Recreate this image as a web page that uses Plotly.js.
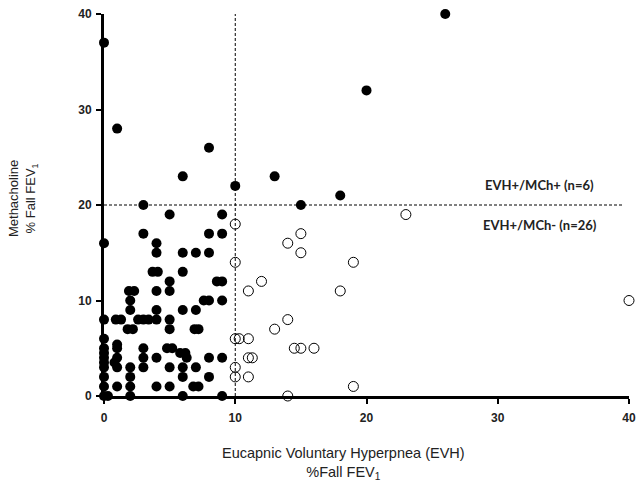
<!DOCTYPE html>
<html>
<head>
<meta charset="utf-8">
<script src="https://cdn.plot.ly/plotly-3.0.1.min.js"></script>
<style>html,body{margin:0;padding:0;background:#fff;}#chart{width:638px;height:487px;}</style>
</head>
<body>
<div id="chart"></div>
<script>
// EVH-/MCh+ and other filled points (EVH %fall, Methacholine %fall)
var filledX = [
  0, 0.3, 2, 6, 9,
  0, 1, 2, 4, 5, 6.8, 7.2,
  0, 2, 6, 8,
  0, 1, 2, 3, 5, 6, 7,
  0, 0.8,
  0, 1, 3, 4, 6.3, 8, 9,
  0, 5.8, 6.2,
  0, 1, 3, 4.8, 5.2,
  1,
  0,
  1.8, 2.2, 5, 6.9, 7.2,
  0, 0.9, 1.3, 2.6, 3, 3.4, 4, 5,
  2, 4, 6, 7,
  2, 7.6, 8, 9,
  1.9, 2.3, 4, 5,
  5, 8.6, 9,
  3.7, 4.1, 6,
  4, 6, 7, 8,
  0, 4,
  3, 8, 9,
  5, 9,
  3, 15,
  18,
  10,
  6, 13,
  8,
  1,
  20,
  0,
  26
];
var filledY = [
  0, 0, 0, 0, 0,
  1, 1, 1, 1, 1, 1, 1,
  2, 2, 2, 2,
  3, 3, 3, 3, 3, 3, 3,
  3.5, 3.5,
  4, 4, 4, 4, 4, 4, 4,
  4.5, 4.5, 4.5,
  5, 5, 5, 5, 5,
  5.4,
  6,
  7, 7, 7, 7, 7,
  8, 8, 8, 8, 8, 8, 8, 8,
  9, 9, 9, 9,
  10, 10, 10, 10,
  11, 11, 11, 11,
  12, 12, 12,
  13, 13, 13,
  15, 15, 15, 15,
  16, 16,
  17, 17, 17,
  19, 19,
  20, 20,
  21,
  22,
  23, 23,
  26,
  28,
  32,
  37,
  40
];
// EVH+/MCh- open points
var openX = [10, 15, 14, 15, 10, 19, 12, 11, 18, 14, 13, 10, 10.3, 11, 14.5, 15, 16, 11, 11.3, 10, 10, 11, 19, 14, 23, 40];
var openY = [18, 17, 16, 15, 14, 14, 12, 11, 11, 8, 7, 6, 6, 6, 5, 5, 5, 4, 4, 3, 2, 2, 1, 0, 19, 10];

var tickVals = [0, 10, 20, 30, 40];
var tickText = ['0', '10', '20', '30', '40'];
var cutoffEVH = 10, cutoffMCh = 20;

var axisFont = {family: 'Liberation Sans, Arial, sans-serif', size: 12, color: '#222', weight: 'bold'};
var yTitleFont = {family: 'Liberation Sans, Arial, sans-serif', size: 13, color: '#222'};
var xTitleFont = {family: 'Liberation Sans, Arial, sans-serif', size: 14.5, color: '#222'};
var noteFont = {family: 'Lato, Open Sans, sans-serif', size: 13, color: '#222', weight: 'bold'};

var traces = [
  {x: filledX, y: filledY, type: 'scatter', mode: 'markers', cliponaxis: false,
   marker: {symbol: 'circle', size: 10, color: '#000', line: {width: 0}}, hoverinfo: 'x+y'},
  {x: openX, y: openY, type: 'scatter', mode: 'markers', cliponaxis: false,
   marker: {symbol: 'circle-open', size: 10, color: '#000', line: {width: 1, color: '#000'}}, hoverinfo: 'x+y'}
];

var layout = {
  width: 638, height: 487,
  margin: {l: 104, r: 9, t: 14, b: 91},
  paper_bgcolor: '#fff', plot_bgcolor: '#fff',
  showlegend: false,
  xaxis: {range: [0, 40], tickvals: tickVals, ticktext: tickText, showgrid: false, zeroline: false,
    showline: true, linecolor: '#000', linewidth: 3, ticks: 'outside', ticklen: 5, tickwidth: 2, tickcolor: '#000',
    tickfont: axisFont, ticklabelstandoff: 4, fixedrange: true},
  yaxis: {range: [0, 40], tickvals: tickVals, ticktext: tickText, showgrid: false, zeroline: false,
    showline: true, linecolor: '#000', linewidth: 3, ticks: 'outside', ticklen: 5, tickwidth: 2, tickcolor: '#000',
    tickfont: axisFont, ticklabelstandoff: 2, fixedrange: true},
  shapes: [
    {type: 'line', xref: 'x', yref: 'y', x0: cutoffEVH, x1: cutoffEVH, y0: 0, y1: 40.5,
     line: {color: '#000', width: 1, dash: '3px,2px'}},
    {type: 'line', xref: 'x', yref: 'y', x0: 0, x1: 39.5, y0: cutoffMCh, y1: cutoffMCh,
     line: {color: '#000', width: 1, dash: '3px,2px'}}
  ],
  annotations: [
    {xref: 'x', yref: 'y', x: 33.2, y: 22.1, text: 'EVH+/MCh+ (n=6)', showarrow: false,
     font: noteFont, xanchor: 'center', yanchor: 'middle'},
    {xref: 'x', yref: 'y', x: 33.2, y: 17.9, text: 'EVH+/MCh- (n=26)', showarrow: false,
     font: noteFont, xanchor: 'center', yanchor: 'middle'},
    {xref: 'paper', yref: 'paper', x: 0.457, y: -0.124, xanchor: 'center', yanchor: 'top',
     text: 'Eucapnic Voluntary Hyperpnea (EVH)<br>%Fall FEV<sub>1</sub>', showarrow: false, font: xTitleFont},
    {xref: 'paper', yref: 'paper', x: -0.154, y: 0.516, xanchor: 'center', yanchor: 'middle', textangle: -90,
     text: 'Methacholine<br>% Fall FEV<sub>1</sub>', showarrow: false, font: yTitleFont}
  ]
};

Plotly.newPlot('chart', traces, layout, {displayModeBar: false, staticPlot: true});
</script>
</body>
</html>
